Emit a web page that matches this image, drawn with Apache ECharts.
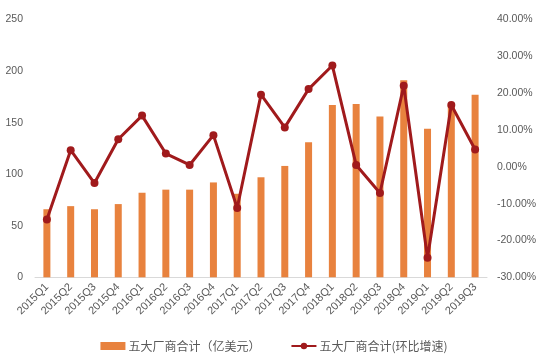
<!DOCTYPE html>
<html>
<head>
<meta charset="utf-8">
<script src="https://cdn.jsdelivr.net/npm/echarts@6/dist/echarts.min.js"></script>
<style>
html,body{margin:0;padding:0;background:#fff;}
#chart{width:548px;height:358px;}
</style>
</head>
<body>
<div id="chart"></div>
<script>
var categories = ['2015Q1','2015Q2','2015Q3','2015Q4','2016Q1','2016Q2','2016Q3','2016Q4','2017Q1','2017Q2','2017Q3','2017Q4','2018Q1','2018Q2','2018Q3','2018Q4','2019Q1','2019Q2','2019Q3'];
var revenue = [66, 69, 66, 71, 82, 85, 85, 92, 81, 97, 108, 131, 167, 168, 156, 191, 144, 167, 177];
var qoqGrowth = [-14.3, 4.5, -4.4, 7.5, 13.9, 3.6, 0.5, 8.6, -11.2, 19.6, 10.7, 21.1, 27.5, 0.5, -7.1, 22.0, -24.7, 16.8, 4.7];
var leftTicks = {min: 0, max: 250, interval: 50};
var rightTicks = {min: -30, max: 40, interval: 10};
var seriesNames = ['五大厂商合计（亿美元）', '五大厂商合计(环比增速)'];

var chart = echarts.init(document.getElementById('chart'), null, {renderer: 'canvas'});
var labelColor = '#595959';
var font = '"Liberation Sans", Arial, sans-serif';
chart.setOption({
  animation: false,
  backgroundColor: '#ffffff',
  grid: {left: 35, right: 61, top: 19.5, bottom: 80.7},
  legend: {
    left: 'center',
    top: 335,
    itemWidth: 25,
    itemHeight: 8,
    itemGap: 30,
    textStyle: {fontFamily: '"Noto Sans CJK SC", sans-serif', fontSize: 12, color: labelColor, padding: [0,0,0,-2]},
    data: [
      {name: seriesNames[0], icon: 'rect'},
      {name: seriesNames[1]}
    ]
  },
  xAxis: {
    type: 'category',
    data: categories,
    axisLine: {lineStyle: {color: '#d9d9d9', width: 1}},
    axisTick: {show: false},
    axisLabel: {rotate: 45, color: labelColor, fontSize: 11, fontFamily: font, margin: 8, interval: 0}
  },
  yAxis: [
    {
      type: 'value',
      min: leftTicks.min, max: leftTicks.max, interval: leftTicks.interval,
      splitLine: {show: false},
      axisLine: {show: false},
      axisTick: {show: false},
      axisLabel: {color: labelColor, fontSize: 10.5, fontFamily: font, margin: 12}
    },
    {
      type: 'value',
      min: rightTicks.min, max: rightTicks.max, interval: rightTicks.interval,
      splitLine: {show: false},
      axisLine: {show: false},
      axisTick: {show: false},
      axisLabel: {color: labelColor, fontSize: 10.5, fontFamily: font, margin: 10,
        formatter: function (v) { return v.toFixed(2) + '%'; }}
    }
  ],
  series: [
    {
      name: seriesNames[0],
      type: 'bar',
      data: revenue,
      barWidth: 7,
      itemStyle: {color: '#E8823E'}
    },
    {
      name: seriesNames[1],
      type: 'line',
      yAxisIndex: 1,
      data: qoqGrowth,
      symbol: 'circle',
      symbolSize: 8,
      lineStyle: {color: '#A01A1C', width: 3},
      itemStyle: {color: '#A01A1C'}
    }
  ]
});
</script>
</body>
</html>
